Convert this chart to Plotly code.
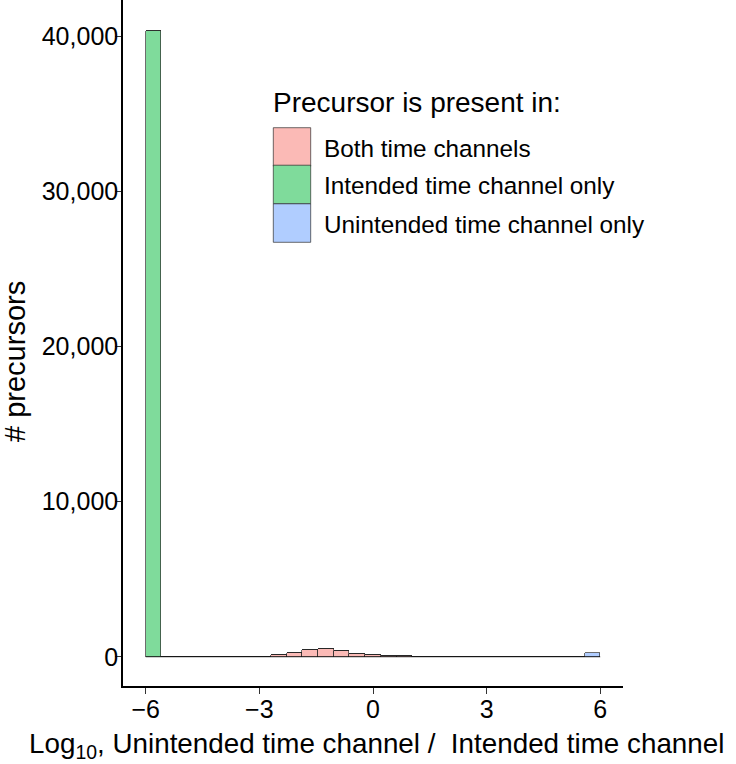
import plotly.graph_objects as go

# ---- data ----
categories = ["Both time channels", "Intended time channel only", "Unintended time channel only"]
fill_colors = ["#FBBAB6", "#7FDB9B", "#B0CDFF"]
x_min, x_max, n_bins = -6.0, 6.0, 29

both_counts = [0, 0, 0, 0, 0, 0, 0, 20, 110, 240, 430, 500, 370, 200, 130,
               60, 35, 15, 5, 0, 0, 0, 0, 0, 0, 0, 0, 0, 0]
intended_counts = [40300, 0, 0, 0, 0, 0, 0, 0, 0, 0, 0, 0, 0, 0, 0,
                   0, 0, 0, 0, 0, 0, 0, 0, 0, 0, 0, 0, 0, 0]
unintended_counts = [0, 0, 0, 0, 0, 0, 0, 0, 0, 0, 0, 0, 0, 0, 0,
                     0, 0, 0, 0, 0, 0, 0, 0, 0, 0, 0, 0, 0, 220]
series = [both_counts, intended_counts, unintended_counts]

x_ticks = [-6, -3, 0, 3, 6]
y_ticks = [0, 10000, 20000, 30000, 40000]

x_title = "Log<sub>10</sub>, Unintended time channel /  Intended time channel"
y_title = "# precursors"
legend_title = "Precursor is present in:"

# bin geometry
bw = (x_max - x_min) / n_bins
centers = [x_min + bw * (i + 0.5) for i in range(n_bins)]

W, H = 736, 764
L, R, T, B = 123, 113, 0, 78
PW, PH = W - L - R, H - T - B

def px(x):
    return (x - L) / PW

def py(y):
    return 1 - (y - T) / PH

FONT = "Liberation Sans, Arial, sans-serif"

fig = go.Figure()

# zero-count baseline (ggplot draws outlines of empty bins)
fig.add_trace(go.Scatter(x=[x_min, x_max], y=[0, 0], mode="lines",
                         line=dict(color="rgba(0,0,0,0.6)", width=1),
                         showlegend=False, hoverinfo="skip"))

for name, col, vals in zip(categories, fill_colors, series):
    fig.add_trace(go.Bar(x=centers, y=vals, width=bw, name=name,
                         marker=dict(color=col, line=dict(color="rgba(40,40,40,0.85)", width=0.8)),
                         showlegend=False))

# custom legend (ggplot-style large keys)
key_x0, key_x1 = 273.3, 310.7
key_tops = [127.7, 165.2, 203.8]
key_h = 38.5
shapes = []
annotations = []
annotations.append(dict(x=px(271), y=py(102), xref="paper", yref="paper",
                        text=legend_title, showarrow=False,
                        xanchor="left", yanchor="middle",
                        font=dict(family=FONT, size=28, color="black")))
for name, col, top in zip(categories, fill_colors, key_tops):
    shapes.append(dict(type="rect", xref="paper", yref="paper",
                       x0=px(key_x0), x1=px(key_x1), y0=py(top + key_h), y1=py(top),
                       fillcolor=col, line=dict(color="rgba(40,40,40,0.85)", width=0.8)))
    annotations.append(dict(x=px(322), y=py(top + key_h / 2 + 1.5), xref="paper", yref="paper",
                            text=name, showarrow=False, xanchor="left", yanchor="middle",
                            font=dict(family=FONT, size=24.3, color="black")))

# axis titles
annotations.append(dict(x=px(376), y=py(745), xref="paper", yref="paper", text=x_title,
                        showarrow=False, xanchor="center", yanchor="middle",
                        font=dict(family=FONT, size=27.8, color="black")))
annotations.append(dict(x=px(15), y=py(362), xref="paper", yref="paper", text=y_title,
                        showarrow=False, xanchor="center", yanchor="middle", textangle=-90,
                        font=dict(family=FONT, size=29, color="black")))

fig.update_layout(
    width=W, height=H,
    margin=dict(l=L, r=R, t=T, b=B, autoexpand=False),
    paper_bgcolor="white", plot_bgcolor="white",
    barmode="stack", bargap=0,
    font=dict(family=FONT, color="black"),
    shapes=shapes, annotations=annotations,
    showlegend=False,
)
fig.update_xaxes(range=[-6.6, 6.6], tickvals=x_ticks, ticks="outside", ticklen=6,
                 tickwidth=1.2, tickcolor="#333", showline=True, linecolor="black", linewidth=1.6,
                 showgrid=False, zeroline=False, automargin=False, ticklabelstandoff=-6,
                 tickfont=dict(size=25, family=FONT, color="black"))
fig.update_yaxes(range=[-1880, 42320], tickvals=y_ticks, tickformat=",", ticks="outside", ticklen=6,
                 tickwidth=1.2, tickcolor="#333", showline=True, linecolor="black", linewidth=1.6,
                 showgrid=False, zeroline=False, automargin=False, ticklabelstandoff=-8,
                 tickfont=dict(size=25, family=FONT, color="black"))

fig.write_html("out.html", config={"displayModeBar": False},
               post_script="document.body.style.margin='0px';document.body.style.padding='0px';")
